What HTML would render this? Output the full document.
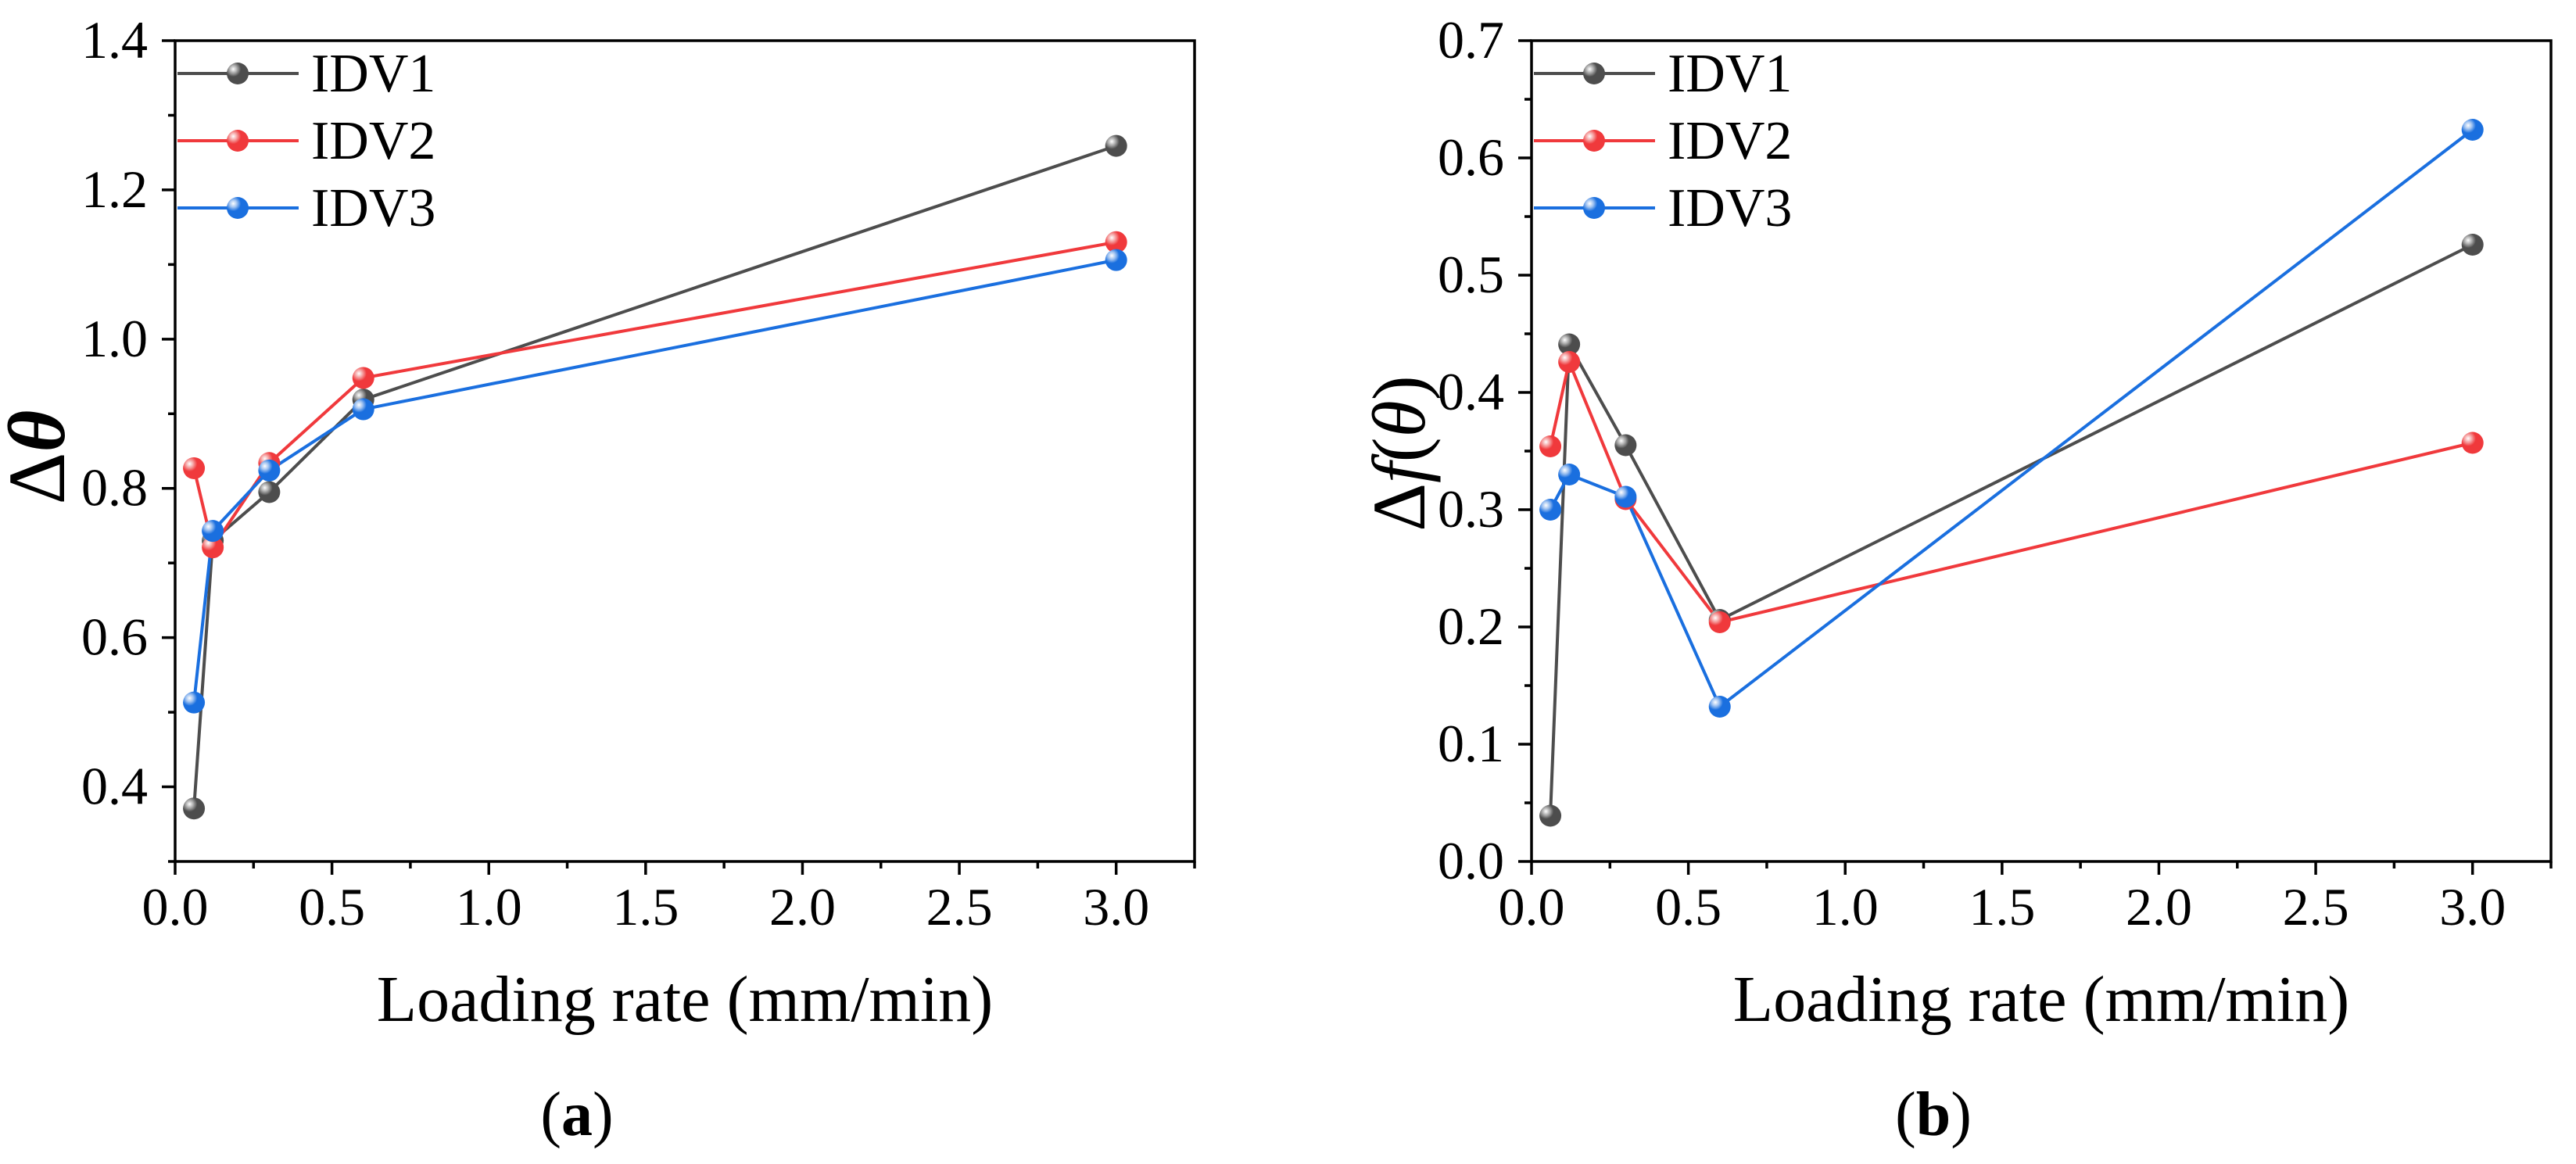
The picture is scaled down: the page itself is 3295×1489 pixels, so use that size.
<!DOCTYPE html>
<html><head><meta charset="utf-8"><style>
html,body{margin:0;padding:0;background:#fff;}
svg{display:block;font-family:"Liberation Serif",serif;}
</style></head><body>
<svg id="fig" width="3295" height="1489" viewBox="0 0 3295 1489" xmlns="http://www.w3.org/2000/svg">
<defs>
<radialGradient id="gk" cx="0.3" cy="0.3" r="0.7"><stop offset="0" stop-color="#fff"/><stop offset="0.25" stop-color="#aaa"/><stop offset="0.5" stop-color="#4d4d4d"/><stop offset="1" stop-color="#4d4d4d"/></radialGradient>
<radialGradient id="gr" cx="0.3" cy="0.3" r="0.7"><stop offset="0" stop-color="#fff"/><stop offset="0.25" stop-color="#f5a0a0"/><stop offset="0.5" stop-color="#f0393c"/><stop offset="1" stop-color="#f0393c"/></radialGradient>
<radialGradient id="gb" cx="0.3" cy="0.3" r="0.7"><stop offset="0" stop-color="#fff"/><stop offset="0.25" stop-color="#9cc0f0"/><stop offset="0.5" stop-color="#1a6fdf"/><stop offset="1" stop-color="#1a6fdf"/></radialGradient>
</defs>
</svg>
<script>
const xRates = [0.06, 0.12, 0.3, 0.6, 3.0];
const seriesNames = ["IDV1", "IDV2", "IDV3"];
const aIDV1 = [0.371, 0.730, 0.795, 0.919, 1.259];
const aIDV2 = [0.827, 0.721, 0.834, 0.948, 1.130];
const aIDV3 = [0.513, 0.743, 0.824, 0.906, 1.106];
const bIDV1 = [0.039, 0.441, 0.355, 0.206, 0.526];
const bIDV2 = [0.354, 0.426, 0.309, 0.204, 0.357];
const bIDV3 = [0.300, 0.330, 0.311, 0.132, 0.624];
const xTicks = ["0.0","0.5","1.0","1.5","2.0","2.5","3.0"];
const aYTicks = ["0.4","0.6","0.8","1.0","1.2","1.4"];
const bYTicks = ["0.0","0.1","0.2","0.3","0.4","0.5","0.6","0.7"];

const NS = "http://www.w3.org/2000/svg";
const svg = document.getElementById("fig");
const colors = ["#4d4d4d","#f0393c","#1a6fdf"];
const grads = ["url(#gk)","url(#gr)","url(#gb)"];
function el(tag, attrs, parent){
  const e = document.createElementNS(NS, tag);
  for (const k in attrs) e.setAttribute(k, attrs[k]);
  (parent||svg).appendChild(e);
  return e;
}

function panel(cfg){
  const g = el("g", {});
  
  
  const L = cfg.left, R = cfg.left + 1304, T = 52, B = 1102;
  const sx = v => L + v / 3.25 * (R - L);
  const sy = v => B - (v - cfg.ymin) / (cfg.ymax - cfg.ymin) * (B - T);
  const fr = el("rect", {x:L, y:T, width:R-L, height:B-T, fill:"none", stroke:"#000", "stroke-width":3.5}, g);
  
  
  for (let i = 0; i <= 13; i++){
    const v = i * 0.25; const x = sx(v);
    const major = i % 2 === 0;
    const t = el("line", {x1:x, x2:x, y1:B, y2:B + (major?17:9), stroke:"#000", "stroke-width":3.5}, g);
    
    
  }
  xTicks.forEach((lab, i) => {
    const t = el("text", {x:sx(parseFloat(lab)), y:1183, "font-size":68, "text-anchor":"middle"}, g);
    t.textContent = lab;
    
    
  });
  const n = Math.round((cfg.ymax - cfg.ymin) / cfg.minor);
  for (let i = 0; i <= n; i++){
    const v = cfg.ymin + i * cfg.minor; const y = sy(v);
    const major = cfg.yTicks.some(s => Math.abs(parseFloat(s) - v) < 1e-6);
    const t = el("line", {x1:L, x2:L - (major?17:9), y1:y, y2:y, stroke:"#000", "stroke-width":3.5}, g);
    
    
  }
  cfg.yTicks.forEach(lab => {
    const t = el("text", {x:L - 35, y:sy(parseFloat(lab)) + 22, "font-size":68, "text-anchor":"end"}, g);
    t.textContent = lab;
    
    
  });
  cfg.series.forEach((vals, si) => {
    const pts = vals.map((v, i) => sx(xRates[i]) + "," + sy(v)).join(" ");
    const pl = el("polyline", {points:pts, fill:"none", stroke:colors[si], "stroke-width":4}, g);
    
    
  });
  cfg.series.forEach((vals, si) => {
    vals.forEach((v, i) => {
      const c = el("circle", {cx:sx(xRates[i]), cy:sy(v), r:14, fill:grads[si]}, g);
      
      
    });
  });
  seriesNames.forEach((nm, si) => {
    const y = 94 + si * 86;
    const lg = el("g", {}, g);
    
    
    el("line", {x1:L + 3, x2:L + 158, y1:y, y2:y, stroke:colors[si], "stroke-width":4}, lg);
    el("circle", {cx:L + 80, cy:y, r:14, fill:grads[si]}, lg);
    const t = el("text", {x:L + 174, y:y + 23, "font-size":70}, lg);
    t.textContent = nm;
  });
  const xt = el("text", {x:L + 652, y:1306, "font-size":84, "text-anchor":"middle"}, g);
  xt.textContent = "Loading rate (mm/min)";
  
  
  const yt = el("text", {x:0, y:0, "font-size":cfg.ytSize, "text-anchor":"middle",
    transform:"translate(" + cfg.ytX + "," + cfg.ytY + ") rotate(-90)"}, g);
  yt.innerHTML = cfg.ytitle;
  
  
  const cap = el("text", {x:L + 514, y:1452, "font-size":80, "text-anchor":"middle"}, g);
  cap.innerHTML = '(<tspan font-weight="bold">' + cfg.cap + '</tspan>)';
  
  
}

panel({name:"chart-a", left:224, ymin:0.3, ymax:1.4, minor:0.1, yTicks:aYTicks,
  series:[aIDV1, aIDV2, aIDV3], ytitle:'Δ<tspan font-style="italic" font-weight="bold">θ</tspan>',
  ytSize:104, ytX:82, ytY:585, cap:"a"});
panel({name:"chart-b", left:1959, ymin:0.0, ymax:0.7, minor:0.05, yTicks:bYTicks,
  series:[bIDV1, bIDV2, bIDV3], ytitle:'Δ<tspan font-style="italic">f</tspan>(<tspan font-style="italic">θ</tspan>)',
  ytSize:96, ytX:1822, ytY:580, cap:"b"});
</script>
</body></html>
